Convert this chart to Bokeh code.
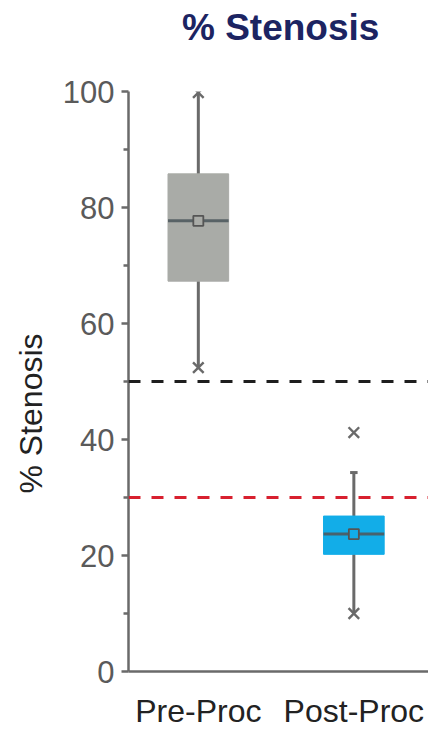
from bokeh.plotting import figure
from bokeh.models import Span, FixedTicker, ColumnDataSource, Title, Div
from bokeh.layouts import column
from bokeh.embed import file_html
from bokeh.resources import INLINE

# ---- data ----
title_text = "% Stenosis"
y_label_text = "% Stenosis"
categories = ["Pre-Proc", "Post-Proc"]
q1 = [67.3, 20.2]
median = [77.7, 23.7]
q3 = [85.8, 26.8]
mean = [77.7, 23.7]
whisker_lo = [52.4, 10.0]
whisker_hi = [99.8, 34.3]
box_colors = ["#a9aba7", "#12ade8"]
# extreme markers (x symbols): (category index, value)
extreme_cat = [0, 0, 1, 1]
extreme_val = [99.8, 52.4, 41.2, 10.0]
# whisker caps drawn
cap_cat = [1]
cap_val = [34.3]
threshold_black = 50
threshold_red = 30
y_ticks = [0, 20, 40, 60, 80, 100]
y_minor = [10, 30, 50, 70, 90]

xs = [i + 1 for i in range(len(categories))]
HALF = 0.195

title_div = Div(text=title_text, width=230, height=44, margin=(6, 0, 0, 182),
                styles={"font-family": "Liberation Sans", "font-size": "37px",
                        "font-weight": "bold", "color": "#1c2462", "line-height": "44px",
                        "white-space": "nowrap"})

p = figure(width=428, height=682, output_backend="svg", toolbar_location=None,
           x_range=(0.551, 2.48), y_range=(0, 100),
           min_border_left=127, min_border_right=0, min_border_top=41,
           min_border_bottom=61)
p.outline_line_color = None
p.background_fill_color = "white"
p.border_fill_color = "white"
p.grid.grid_line_color = None

# y label as a left title so it can be placed off-centre like the reference
p.add_layout(Title(text=y_label_text, text_font="Liberation Sans", text_font_size="32px",
                   text_font_style="normal", text_color="#222222", align="left",
                   offset=178, standoff=21), "left")

# reference lines
p.add_layout(Span(location=threshold_black, dimension="width", line_color="#1e1e1e",
                  line_width=3, line_dash="12 11"))
p.add_layout(Span(location=threshold_red, dimension="width", line_color="#d8202f",
                  line_width=3, line_dash="12 11"))

src = ColumnDataSource(dict(x=xs, q1=q1, q3=q3, med=median, mean=mean,
                            lo=whisker_lo, hi=whisker_hi, color=box_colors))
# whiskers
p.segment(x0="x", y0="lo", x1="x", y1="hi", source=src, line_color="#6a6a6a", line_width=3)
# boxes
p.vbar(x="x", width=2 * HALF, bottom="q1", top="q3", source=src, fill_color="color",
       line_color="color", line_width=1)
# medians
p.segment(x0=[x - HALF for x in xs], y0=median, x1=[x + HALF for x in xs], y1=median,
          line_color="#4f5a5f", line_width=3, line_alpha=0.9)
# means
p.scatter(x="x", y="mean", source=src, marker="square", size=10, fill_color="color",
          line_color="#555555", line_width=1.8)
# caps
p.segment(x0=[xs[c] - 0.024 for c in cap_cat], y0=cap_val, x1=[xs[c] + 0.024 for c in cap_cat],
          y1=cap_val, line_color="#6a6a6a", line_width=3)
# extremes
p.scatter(x=[xs[c] for c in extreme_cat], y=extreme_val, marker="x", size=15,
          line_color="#6a6a6a", line_width=2.4)

# axes
p.yaxis.ticker = FixedTicker(ticks=y_ticks, minor_ticks=y_minor)
p.yaxis.major_label_text_font = "Liberation Sans"
p.yaxis.major_label_text_font_size = "31px"
p.yaxis.major_label_text_color = "#5a5a5a"
p.yaxis.major_label_standoff = 7
p.yaxis.axis_line_color = "#6a6a6a"
p.yaxis.axis_line_width = 2.5
p.yaxis.major_tick_line_color = "#6a6a6a"
p.yaxis.major_tick_line_width = 2.5
p.yaxis.major_tick_out = 7
p.yaxis.major_tick_in = 0
p.yaxis.minor_tick_line_color = "#6a6a6a"
p.yaxis.minor_tick_line_width = 2.5
p.yaxis.minor_tick_out = 5
p.yaxis.minor_tick_in = 0

p.xaxis.ticker = FixedTicker(ticks=xs)
p.xaxis.major_label_overrides = {x: c for x, c in zip(xs, categories)}
p.xaxis.major_label_text_font = "Liberation Sans"
p.xaxis.major_label_text_font_size = "32px"
p.xaxis.major_label_text_color = "#222222"
p.xaxis.major_label_standoff = 21
p.xaxis.axis_line_color = "#6a6a6a"
p.xaxis.axis_line_width = 2.5
p.xaxis.major_tick_out = 0
p.xaxis.major_tick_in = 0
p.xaxis.minor_tick_line_color = None

layout = column(title_div, p, spacing=0)
open("out.html", "w").write(file_html(layout, INLINE))
